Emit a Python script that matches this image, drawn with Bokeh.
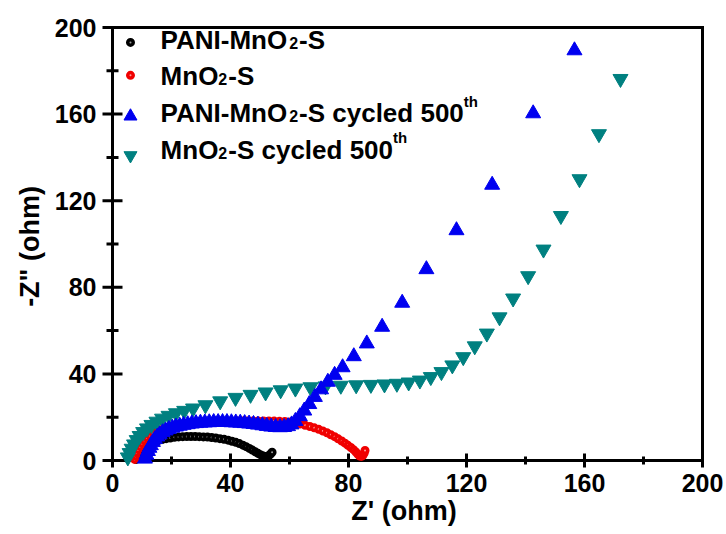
from bokeh.plotting import figure
from bokeh.models import Range1d, FixedTicker, ColumnDataSource
from bokeh.core.properties import value
from bokeh.embed import file_html
from bokeh.resources import INLINE

# ---------------- data ----------------
pani_x = [8.0, 8.3, 8.7, 9.2, 9.8, 10.5, 11.3, 12.2, 13.2, 14.3, 15.5, 16.8, 18.2, 19.6, 21.0, 22.4,
          23.8, 25.2, 26.6, 28.0, 29.4, 30.8, 32.2, 33.6, 35.0, 36.4, 37.8, 39.2, 40.5, 41.8, 43.0,
          44.2, 45.3, 46.4, 47.4, 48.4, 49.3, 50.1, 50.9, 51.6, 52.3, 53.0, 53.6, 54.1]
pani_y = [0.5, 1.8, 3.0, 4.1, 5.1, 6.0, 6.8, 7.5, 8.1, 8.7, 9.2, 9.7, 10.1, 10.4, 10.7, 10.9,
          11.0, 11.1, 11.1, 11.1, 11.0, 10.9, 10.8, 10.6, 10.4, 10.1, 9.8, 9.4, 8.9, 8.4, 7.8,
          7.1, 6.4, 5.6, 4.8, 4.0, 3.3, 2.7, 2.2, 1.9, 1.9, 2.3, 3.0, 3.8]

mno2_x = [7.5, 7.8, 8.2, 8.7, 9.3, 10.0, 10.8, 11.7, 12.7, 13.8, 15.0, 16.3, 17.7, 19.2, 20.8, 22.5,
          24.2, 26.0, 27.8, 29.6, 31.4, 33.2, 35.0, 36.8, 38.6, 40.4, 42.2, 44.0, 45.8, 47.6, 49.4,
          51.2, 53.0, 54.8, 56.6, 58.4, 60.2, 62.0, 63.7, 65.3, 66.9, 68.4, 69.9, 71.3, 72.7, 74.0,
          75.3, 76.5, 77.7, 78.8, 79.8, 80.8, 81.7, 82.5, 83.2, 83.8, 84.4, 84.9, 85.3, 85.6]
mno2_y = [0.5, 2.0, 3.5, 5.0, 6.5, 7.9, 9.2, 10.4, 11.5, 12.5, 13.4, 14.2, 14.9, 15.5, 16.0, 16.5,
          16.9, 17.2, 17.5, 17.7, 17.9, 18.0, 18.1, 18.2, 18.3, 18.3, 18.3, 18.3, 18.3, 18.3, 18.3,
          18.3, 18.3, 18.2, 18.1, 18.0, 17.8, 17.4, 16.9, 16.3, 15.7, 15.1, 14.4, 13.6, 12.8, 11.9,
          11.0, 10.0, 9.0, 8.0, 7.0, 6.0, 5.0, 3.9, 2.8, 2.1, 1.9, 2.4, 3.4, 4.6]

pani_cyc_x = [11.0, 11.5, 12.0, 12.5, 13.0, 13.7, 14.4, 15.2, 16.0, 17.0, 18.0, 19.1, 20.3, 21.5,
              22.8, 24.1, 25.5, 26.9, 28.3, 29.8, 31.3, 32.8, 34.3, 35.8, 37.3, 38.8, 40.3, 41.8,
              43.3, 44.8, 46.3, 47.8, 49.3, 50.8, 52.3, 53.8, 55.3, 56.8, 58.2, 59.5, 60.7, 62.0,
              63.5, 65.0, 66.7, 68.6, 70.7, 73.0, 75.3, 78.0, 81.8, 86.2, 91.4, 98.2, 106.4, 116.6,
              128.7, 142.6, 156.6]
pani_cyc_y = [0.8, 2.6, 4.3, 5.8, 7.0, 8.5, 9.8, 11.0, 12.0, 13.0, 13.8, 14.5, 15.1, 15.6,
              16.0, 16.4, 16.7, 17.0, 17.2, 17.4, 17.5, 17.6, 17.7, 17.7, 17.7, 17.7, 17.6, 17.5,
              17.4, 17.2, 17.0, 16.8, 16.5, 16.2, 15.9, 15.6, 15.4, 15.3, 15.4, 15.8, 16.6, 18.2,
              20.4, 23.0, 26.0, 29.3, 32.8, 36.3, 39.5, 43.0, 48.1, 54.0, 61.7, 72.8, 88.3, 106.3,
              127.3, 160.3, 189.4]

mno2_cyc_x = [5.2, 5.8, 6.5, 7.3, 8.2, 9.2, 10.4, 11.7, 13.2, 14.9, 16.8, 19.0, 21.5, 24.3, 27.3,
              31.5, 36.5, 41.7, 46.8, 51.9, 57.0, 62.0, 67.1, 72.2, 77.4, 82.6, 87.6, 92.2, 96.4,
              100.4, 104.2, 107.9, 111.5, 115.2, 118.9, 122.8, 126.9, 131.2, 135.8, 140.9, 146.1,
              152.0, 158.3, 164.9, 172.2]
mno2_cyc_y = [1.5, 3.5, 5.5, 7.5, 9.5, 11.4, 13.2, 14.9, 16.5, 18.0, 19.4, 20.7, 21.9, 23.0, 24.1,
              25.6, 27.4, 29.0, 30.4, 31.5, 32.5, 33.3, 33.9, 34.3, 34.6, 34.8, 35.0, 35.2, 35.5,
              36.1, 37.0, 38.6, 40.9, 44.0, 47.8, 52.8, 58.7, 66.2, 74.9, 85.2, 97.5,
              113.0, 130.0, 150.8, 176.3]

x_ticks = [0, 40, 80, 120, 160, 200]
x_minor = [20, 60, 100, 140, 180]
y_ticks = [0, 40, 80, 120, 160, 200]
y_minor = [20, 60, 100, 140, 180]
X_MIN, X_MAX = 0, 200
Y_MIN, Y_MAX = 0, 200

FONT = "Liberation Sans"
BLUE = "#0000F0"
TEAL = "#008080"
RED = "#F00000"

# ---------------- layout (pixels) ----------------
W_PX, H_PX = 726, 534
BOX_L, BOX_R, BOX_T, BOX_B = 112, 702, 27, 460       # axes box in the picture
XT_MAJ, XT_MIN = 7, 4                                  # tick lengths at the x axis
YT_MAJ, YT_MIN = 10, 6                                 # tick lengths at the y axis
TICK_W = 3
FR_L, FR_R, FR_T, FR_B = BOX_L - YT_MAJ - 1, 706, 24, BOX_B + XT_MAJ + 1   # plot frame

sx = (BOX_R - BOX_L) / (X_MAX - X_MIN)     # px per x unit
sy = (BOX_B - BOX_T) / (Y_MAX - Y_MIN)     # px per y unit
x_range = Range1d(X_MIN - (BOX_L - FR_L) / sx, X_MAX + (FR_R - BOX_R) / sx)
y_range = Range1d(Y_MIN - (FR_B - BOX_B) / sy, Y_MAX + (BOX_T - FR_T) / sy)

p = figure(width=W_PX, height=H_PX, x_range=x_range, y_range=y_range,
           output_backend="svg", toolbar_location=None,
           min_border_left=FR_L, min_border_right=W_PX - FR_R,
           min_border_top=FR_T, min_border_bottom=H_PX - FR_B)
p.xgrid.visible = False
p.ygrid.visible = False
p.outline_line_color = None
p.background_fill_color = None
p.border_fill_color = None

p.xaxis.ticker = FixedTicker(ticks=x_ticks, minor_ticks=x_minor)
p.yaxis.ticker = FixedTicker(ticks=y_ticks, minor_ticks=y_minor)
for ax in (p.xaxis, p.yaxis):
    ax.axis_line_color = None
    ax.major_tick_line_color = None
    ax.minor_tick_line_color = None
    ax.major_tick_out = 0
    ax.major_tick_in = 0
    ax.minor_tick_out = 0
    ax.minor_tick_in = 0
    ax.major_label_text_font = FONT
    ax.major_label_text_font_style = "bold"
    ax.major_label_text_font_size = "25px"
    ax.major_label_text_color = "black"
    ax.axis_label_text_font = FONT
    ax.axis_label_text_font_style = "bold"
    ax.axis_label_text_font_size = "27px"
    ax.axis_label_text_color = "black"

p.xaxis.major_label_standoff = 5
p.xaxis.axis_label_standoff = 1
p.yaxis.major_label_standoff = 5
p.yaxis.axis_label_standoff = 7
p.xaxis.axis_label = "Z' (ohm)"
p.yaxis.axis_label = '-Z" (ohm)'

# ---------------- axes box and ticks (drawn in data space) ----------------
p.segment(x0=[X_MIN, X_MIN, X_MIN, X_MAX], y0=[Y_MIN, Y_MIN, Y_MAX, Y_MIN],
          x1=[X_MAX, X_MIN, X_MAX, X_MAX], y1=[Y_MIN, Y_MAX, Y_MAX, Y_MAX],
          line_color="black", line_width=3, line_cap="square")

def tick_rects(pos, length_px, axis):
    # tick bars centred on the axis line, reaching length_px to each side
    n = len(pos)
    if axis == "x":
        return dict(x=pos, y=[Y_MIN] * n, w=[TICK_W] * n, h=[2 * length_px] * n)
    return dict(x=[X_MIN] * n, y=pos, w=[2 * length_px] * n, h=[TICK_W] * n)

for pos, ln, axis in ((x_ticks, XT_MAJ, "x"), (x_minor, XT_MIN, "x"),
                      (y_ticks, YT_MAJ, "y"), (y_minor, YT_MIN, "y")):
    src = ColumnDataSource(tick_rects(pos, ln, axis))
    p.rect(x="x", y="y", width="w", height="h", width_units="screen", height_units="screen",
           source=src, fill_color="black", line_color=None)

# ---------------- series ----------------
p.scatter(pani_x, pani_y, marker="circle", size=5.5, fill_color="#9A9A9A", line_color="black", line_width=3.5)
p.scatter(mno2_x, mno2_y, marker="circle", size=5.5, fill_color="#FF9A9A", line_color=RED, line_width=3.5)
p.scatter(mno2_cyc_x, mno2_cyc_y, marker="inverted_triangle", size=15, fill_color=TEAL, line_color=TEAL)
p.scatter(pani_cyc_x, pani_cyc_y, marker="triangle", size=15, fill_color=BLUE, line_color=BLUE)

# ---------------- legend (manual, for sub/superscripts) ----------------
W = {' ': 278, '-': 333, '0': 556, '2': 556, '5': 556, 'A': 722, 'I': 278, 'M': 833, 'N': 722,
     'O': 778, 'P': 667, 'S': 667, 'c': 556, 'd': 611, 'e': 556, 'h': 611, 'l': 278, 'n': 611,
     't': 333, 'y': 556}

def tw(s, size):
    return sum(W[c] for c in s) * size / 1000.0

MAIN, SUB, SUP = 26, 16, 15
rows = [
    [("PANI-MnO", "m"), ("2", "b"), ("-S", "m")],
    [("MnO", "m"), ("2", "b"), ("-S", "m")],
    [("PANI-MnO", "m"), ("2", "b"), ("-S cycled 500", "m"), ("th", "p")],
    [("MnO", "m"), ("2", "b"), ("-S cycled 500", "m"), ("th", "p")],
]
leg_text_x = 16.3
leg_mark_x = 6.1
leg_mid_y = [194.2, 177.5, 160.5, 143.6]
leg_mark_y = [193.1, 177.9, 159.0, 140.9]

groups = {"m": dict(x=[], y=[], t=[], xo=[], yo=[]),
          "b": dict(x=[], y=[], t=[], xo=[], yo=[]),
          "p": dict(x=[], y=[], t=[], xo=[], yo=[])}
sizes = {"m": MAIN, "b": SUB, "p": SUP}
yoffs = {"m": 0, "b": 3, "p": -12}
for r, my in zip(rows, leg_mid_y):
    off = 0.0
    for s, kind in r:
        g = groups[kind]
        g["x"].append(leg_text_x)
        g["y"].append(my)
        g["t"].append(s)
        g["xo"].append(off)
        g["yo"].append(yoffs[kind])
        off += tw(s, sizes[kind]) + (1 if kind == "b" else 0)

for kind, g in groups.items():
    src = ColumnDataSource(dict(x=g["x"], y=g["y"], t=g["t"], xo=g["xo"], yo=g["yo"]))
    p.text(x="x", y="y", text="t", x_offset="xo", y_offset="yo", source=src,
           text_font=value(FONT), text_font_style="bold",
           text_font_size="%dpx" % sizes[kind], text_baseline="middle",
           text_align="left", text_color="black")

p.scatter([leg_mark_x], [leg_mark_y[0]], marker="circle", size=5.5, fill_color="#9A9A9A", line_color="black", line_width=3.5)
p.scatter([leg_mark_x], [leg_mark_y[1]], marker="circle", size=5.5, fill_color="#FF9A9A", line_color=RED, line_width=3.5)
p.scatter([leg_mark_x], [leg_mark_y[2]], marker="triangle", size=13, fill_color=BLUE, line_color=BLUE)
p.scatter([leg_mark_x], [leg_mark_y[3]], marker="inverted_triangle", size=13, fill_color=TEAL, line_color=TEAL)

open("out.html", "w").write(file_html(p, INLINE))
